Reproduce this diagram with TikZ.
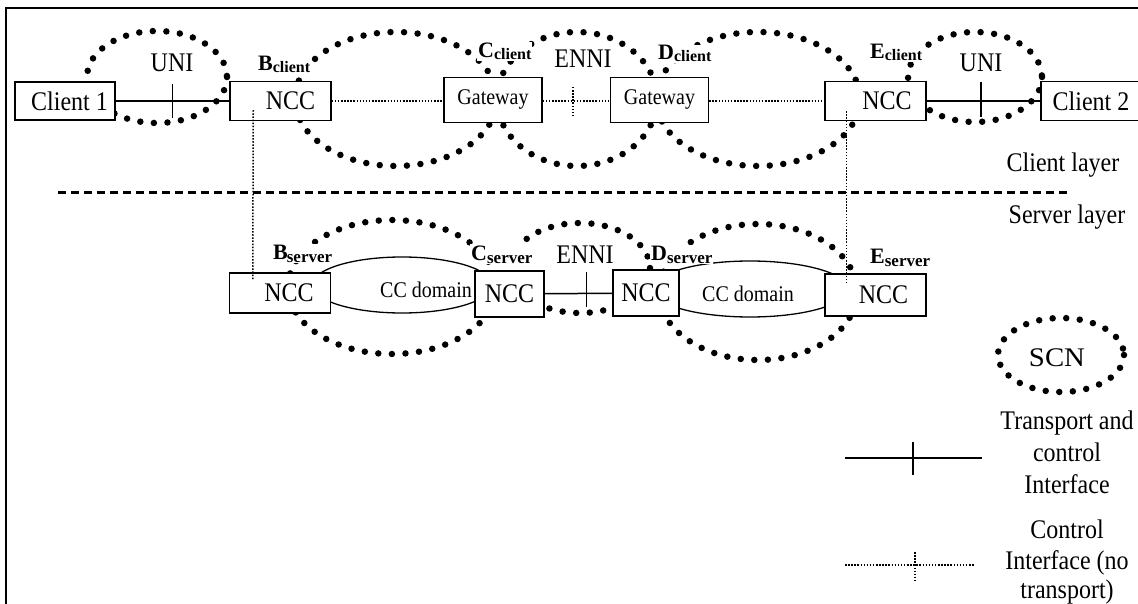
\documentclass[tikz,border=0pt]{standalone}
\usepackage{fontspec}
\setmainfont{Liberation Serif}
\usetikzlibrary{calc}
\newcommand\vstr[1]{\scalebox{1}[1.12]{#1}}
\begin{document}
\begin{tikzpicture}[x=1pt,y=-1pt,
  box/.style={draw, line width=1.5pt, fill=white, inner sep=0pt, font=\fontsize{24}{24}\selectfont},
  gw/.style={box, minimum width=98pt, minimum height=45pt, font=\fontsize{20}{20}\selectfont},
  ncc/.style={box, minimum width=101pt, minimum height=39pt},
  scn/.style={line width=6.5pt, line cap=round, dash pattern=on 0pt off 13.6pt},
  ctl/.style={line width=1.5pt, dash pattern=on 1.5pt off 1.6pt},
  tr/.style={line width=1.5pt},
  lens/.style={line width=1.3pt},
  lbl/.style={inner sep=1pt, fill=white, anchor=base west, font=\fontsize{22}{22}\selectfont\bfseries},
  txt/.style={inner sep=0pt, font=\fontsize{24}{24}\selectfont, anchor=base},
  cctxt/.style={inner sep=0pt, font=\fontsize{20}{20}\selectfont},
]
\clip (0,0) rectangle (1138,604);
\fill[white] (0,0) rectangle (1138,604);
\draw[line width=2.2pt] (6,604) -- (6,8) -- (1138,8);

% SCN dotted ellipses
\draw[scn] (157,77) ellipse [x radius=70, y radius=46];
\draw[scn] (396,99) ellipse [x radius=101, y radius=67];
\draw[scn] (577,99) ellipse [x radius=80, y radius=67];
\draw[scn] (758,99) ellipse [x radius=102, y radius=67];
\draw[scn] (975,77) ellipse [x radius=67, y radius=45];
\draw[scn] (392,287) ellipse [x radius=104, y radius=67];
\draw[scn] (580,268) ellipse [x radius=70, y radius=45];
\draw[scn] (758,292) ellipse [x radius=99, y radius=68];
\draw[scn] (1061,355) ellipse [x radius=63, y radius=37];

% CC domains
\draw[lens] (402,285) ellipse [x radius=90, y radius=28];
\draw[lens] (750,289) ellipse [x radius=98, y radius=28];

% layer separator
\draw[line width=3pt, dash pattern=on 8pt off 5pt] (58,193) -- (1070,193);

% client layer boxes
\node[box, minimum width=100pt, minimum height=38pt] (c1) at (65,101) {\vstr{\hspace*{9pt}Client 1}};
\node[ncc] (bc) at (280.5,101) {\vstr{\hspace*{20pt}NCC}};
\node[gw] (gc) at (493,100) {\vstr{Gateway}};
\node[gw] (gd) at (659.5,100) {\vstr{Gateway}};
\node[ncc] (ec) at (875.5,101) {\vstr{\hspace*{23pt}NCC}};
\node[box, minimum width=110pt, minimum height=39pt] (c2) at (1096,101) {\vstr{Client 2\hspace*{10pt}}};

% server layer boxes
\node[ncc, minimum height=40pt] (bs) at (280,293) {\vstr{\hspace*{18pt}NCC}};
\node[box, minimum width=69pt, minimum height=46pt] (cs) at (509.5,294) {\vstr{NCC}};
\node[box, minimum width=66pt, minimum height=46pt] (ds) at (646,293) {\vstr{NCC}};
\node[ncc, minimum height=42pt] (es) at (875.5,295) {\vstr{\hspace*{16pt}NCC}};

% connectors
\draw[tr] (c1) -- (bc);
\draw[tr] ($(c1.east)!0.5!(bc.west)$) ++(0,-17) -- ++(0,34);
\draw[ctl] (bc.east) -- (gc.west |- bc.east);
\draw[ctl] (gc.east |- bc.east) -- (gd.west |- bc.east);
\draw[ctl] ($(gc.east)!0.45!(gd.west)$) ++(0,-13) -- ++(0,31);
\draw[ctl] (gd.east |- bc.east) -- (ec.west);
\draw[tr] (ec) -- (c2);
\draw[tr] ($(ec.east)!0.48!(c2.west)$) ++(0,-19) -- ++(0,35);
\draw[tr] (cs) -- (ds);
\draw[tr] ($(cs.east)!0.62!(ds.west)$) ++(0,-21) -- ++(0,35);
\draw[ctl] ($(bc.south west)+(24,-11)$) -- ($(bs.north west)+(24,7)$);
\draw[ctl] ($(ec.south west)+(22,-10)$) -- ($(es.north west)+(22,10)$);

% labels
\node[lbl] (lbc) at (257,71) {B\raisebox{-2pt}{\fontsize{16}{16}\selectfont client}};
\node[lbl] (lcc) at (477,58) {C\raisebox{-2pt}{\fontsize{16}{16}\selectfont client}};
\node[lbl] (ldc) at (657,60) {D\raisebox{-2pt}{\fontsize{16}{16}\selectfont client}};
\node[lbl] (lec) at (869,59) {E\raisebox{-2pt}{\fontsize{16}{16}\selectfont client}};
\node[lbl] (lbs) at (272,259) {B\kern-1pt\raisebox{-3pt}{\fontsize{17}{17}\selectfont server}};
\node[lbl] (lcs) at (470,260) {C\raisebox{-3pt}{\fontsize{17}{17}\selectfont server}};
\node[lbl] (lds) at (650,260) {D\raisebox{-3pt}{\fontsize{17}{17}\selectfont server}};
\node[lbl] (les) at (869,263) {E\raisebox{-3pt}{\fontsize{17}{17}\selectfont server}};

\node[txt] (uni1) at (172,72) {\vstr{UNI}};
\node[txt] (uni2) at (981,72) {\vstr{UNI}};
\node[txt] (enni1) at (583,68) {\vstr{ENNI}};
\node[txt] (enni2) at (585,263) {\vstr{ENNI}};
\node[cctxt] (cc1) at (426,290) {\vstr{CC domain}};
\node[cctxt] (cc2) at (748,294) {\vstr{CC domain}};
\node[txt] (cl) at (1063,172) {\vstr{Client layer}};
\node[txt] (sl) at (1067,224) {\vstr{Server layer}};
\node[txt] (scnt) at (1057,366) {\scalebox{1.2}[1.12]{SCN}};

% legend
\coordinate (la) at (845,458);
\coordinate (lb) at (982,458);
\draw[tr] (la) -- (lb);
\draw[tr] (913,442) -- (913,475);
\coordinate (lc) at (845,565);
\coordinate (ld) at (975,565);
\draw[ctl] (lc) -- (ld);
\draw[ctl] (915,552) -- (915,583);
\node[txt] (t1) at (1067,429) {\vstr{Transport and}};
\node[txt] (t2) at (1067,461) {\vstr{control}};
\node[txt] (t3) at (1067,493) {\vstr{Interface}};
\node[txt] (t4) at (1067,538) {\vstr{Control}};
\node[txt] (t5) at (1067,569) {\vstr{Interface (no}};
\node[txt] (t6) at (1067,598) {\vstr{transport)}};
\end{tikzpicture}
\end{document}
